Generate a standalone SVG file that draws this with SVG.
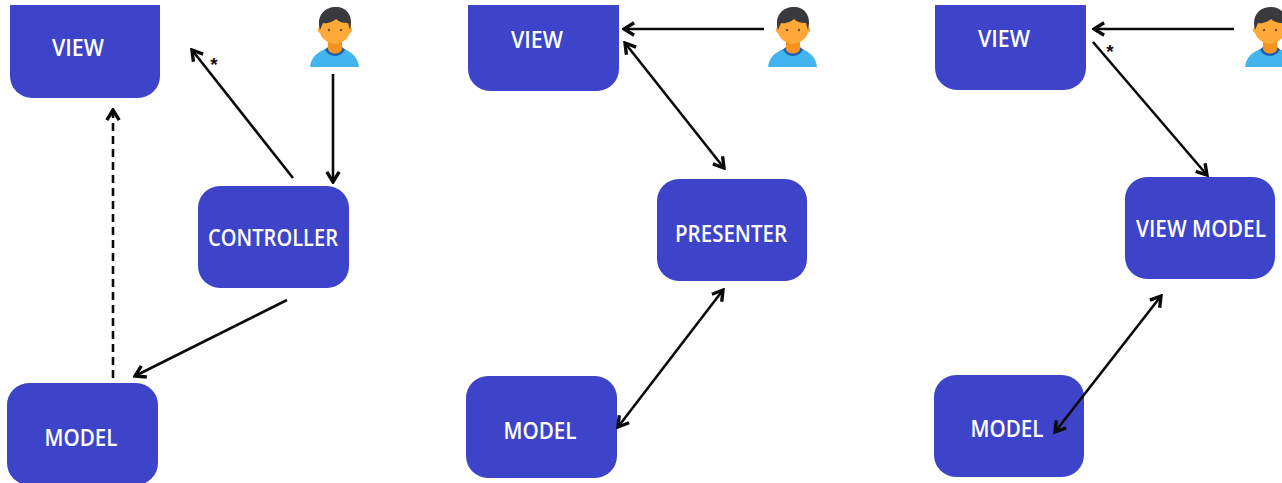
<svg xmlns="http://www.w3.org/2000/svg" width="1282" height="483" viewBox="0 0 1282 483">
<style>
.box{fill:#3d44c9}
.lbl{fill:#fff;font-family:"Open Sans","Liberation Sans",sans-serif;font-weight:600;font-size:24px;text-anchor:middle}
.c{fill:none;stroke:#0a0a0a;stroke-width:2.6}
.star{fill:#111;font-family:"Liberation Sans",sans-serif;font-weight:700;font-size:19px;text-anchor:middle}
</style>
<defs>
<marker id="a" markerUnits="userSpaceOnUse" markerWidth="18" markerHeight="18" refX="14" refY="8" orient="auto-start-reverse" viewBox="0 0 16 16"><path d="M5 2.500L14 8L5 13.500" fill="none" stroke="#0a0a0a" stroke-width="3"/></marker>
<g id="person">
<path d="M1 60C2 50 8 45 19 41L26 46L33 41C43 45 49 50 50 60Z" fill="#42b4ee"/>
<path d="M16 42.500C20 51 32 51 36 42.500L33 40H19Z" fill="#1f5ea8"/>
<path d="M19 32H33V42C32 48 20 48 19 42Z" fill="#f6921e"/>
<path d="M12 8H40L41 20C44 21 44 25 41 26C39 33 31 37 26 37C21 37 13 33 11 26C8 25 8 21 11 20Z" fill="#ffa939"/>
<path d="M11 23C7 8 16 0 27 0C37 0 45 8 41 23L39 16C34 16 30 15 27 12C24 15 17 17 14 16Z" fill="#3a3a3e"/>
<circle cx="20" cy="23" r="1.200" fill="#7a4a20"/><circle cx="32" cy="23" r="1.200" fill="#7a4a20"/>
</g>
</defs>
<rect width="1282" height="483" fill="#fff"/>
<g id="view1"><path class="box" d="M10 5H160V76a22 22 0 0 1-22 22H32a22 22 0 0 1-22-22Z"/><text class="lbl" x="78" y="56" textLength="52" lengthAdjust="spacingAndGlyphs">VIEW</text></g>
<g id="controller"><rect class="box" x="198" y="186" width="151" height="102" rx="22"/><text class="lbl" x="273" y="246" textLength="130" lengthAdjust="spacingAndGlyphs">CONTROLLER</text></g>
<g id="model1"><rect class="box" x="7" y="383" width="151" height="102" rx="22"/><text class="lbl" x="81" y="446" textLength="73" lengthAdjust="spacingAndGlyphs">MODEL</text></g>
<g id="user1"><use href="#person" x="309" y="7"/></g>
<g id="view2"><path class="box" d="M468 5H619V69a22 22 0 0 1-22 22H490a22 22 0 0 1-22-22Z"/><text class="lbl" x="537" y="48" textLength="52" lengthAdjust="spacingAndGlyphs">VIEW</text></g>
<g id="presenter"><rect class="box" x="657" y="179" width="150" height="102" rx="22"/><text class="lbl" x="731" y="242" textLength="112" lengthAdjust="spacingAndGlyphs">PRESENTER</text></g>
<g id="model2"><rect class="box" x="466" y="376" width="151" height="102" rx="22"/><text class="lbl" x="540" y="439" textLength="73" lengthAdjust="spacingAndGlyphs">MODEL</text></g>
<g id="user2"><use href="#person" x="767" y="7"/></g>
<g id="view3"><path class="box" d="M935 5H1086V68a22 22 0 0 1-22 22H957a22 22 0 0 1-22-22Z"/><text class="lbl" x="1004" y="47" textLength="52" lengthAdjust="spacingAndGlyphs">VIEW</text></g>
<g id="viewmodel"><rect class="box" x="1125" y="177" width="150" height="102" rx="22"/><text class="lbl" x="1201" y="237" style="font-size:23px" textLength="130" lengthAdjust="spacingAndGlyphs">VIEW MODEL</text></g>
<g id="model3"><rect class="box" x="934" y="375" width="150" height="102" rx="22"/><text class="lbl" x="1007" y="437" textLength="73" lengthAdjust="spacingAndGlyphs">MODEL</text></g>
<g id="user3"><use href="#person" x="1244" y="7"/></g>
<g id="connectors">
<path class="c" marker-end="url(#a)" d="M293 178L192 50"/>
<path class="c" marker-end="url(#a)" d="M333 74V182"/>
<path class="c" marker-end="url(#a)" d="M287 300L135 376"/>
<path class="c" marker-end="url(#a)" stroke-dasharray="8 5" d="M113 378V110"/>
<path class="c" marker-end="url(#a)" d="M764 29H624"/>
<path class="c" marker-start="url(#a)" marker-end="url(#a)" d="M625 43L724 168"/>
<path class="c" marker-start="url(#a)" marker-end="url(#a)" d="M723 290L618 427"/>
<path class="c" marker-end="url(#a)" d="M1234 29H1094"/>
<path class="c" marker-end="url(#a)" d="M1093 42L1207 175"/>
<path class="c" marker-start="url(#a)" marker-end="url(#a)" d="M1161 296L1055 432"/>
<text class="star" x="214" y="71">*</text>
<text class="star" x="1110" y="58">*</text>
</g>
</svg>
